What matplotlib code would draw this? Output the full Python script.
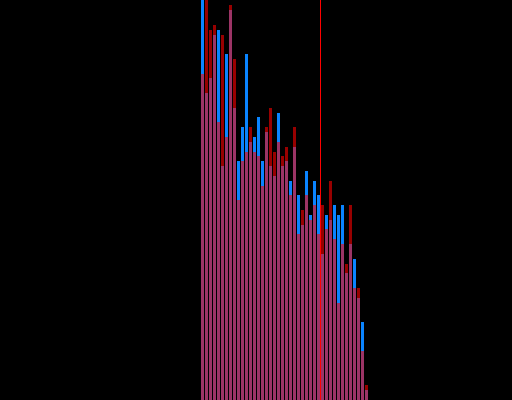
import matplotlib
matplotlib.use("Agg")
import matplotlib.pyplot as plt
import numpy as np

# bin index (histogram bins)
bins = list(range(42))
# counts per bin, series A (blue)
blue_counts = [90, 63, 66, 75, 76, 48, 71, 80, 60, 49,
               56, 71, 53, 54, 58, 49, 55, 48, 46, 59,
               48, 49, 45, 52, 42, 36, 47, 38, 45, 42,
               30, 38, 37, 40, 38, 40, 26, 32, 29, 21,
               16, 2]
# counts per bin, series B (red)
red_counts = [67, 85, 76, 77, 57, 75, 54, 81, 70, 41,
              49, 51, 56, 51, 50, 44, 56, 60, 51, 53,
              50, 52, 42, 56, 34, 39, 42, 37, 40, 34,
              40, 35, 45, 33, 20, 32, 28, 40, 23, 23,
              10, 3]
threshold = 29.875

fig = plt.figure(figsize=(5.12, 4.0), dpi=100, facecolor="black")
ax = fig.add_axes([0, 0, 1, 1])
ax.set_facecolor("black")

ax.bar(bins, blue_counts, width=0.75, align="edge", color="#0a84ff", linewidth=0)
ax.bar(bins, red_counts, width=0.75, align="edge", color="#ff0000", alpha=0.6, linewidth=0)
half = 0.125  # half a pixel in data units
ax.axvspan(threshold - half, threshold + half, color="#ff0000", linewidth=0, zorder=5)

ax.set_xlim(-50.25, 77.75)
ax.set_ylim(0, 82.1)
ax.axis("off")

fig.savefig("out.png", dpi=100, facecolor="black")
